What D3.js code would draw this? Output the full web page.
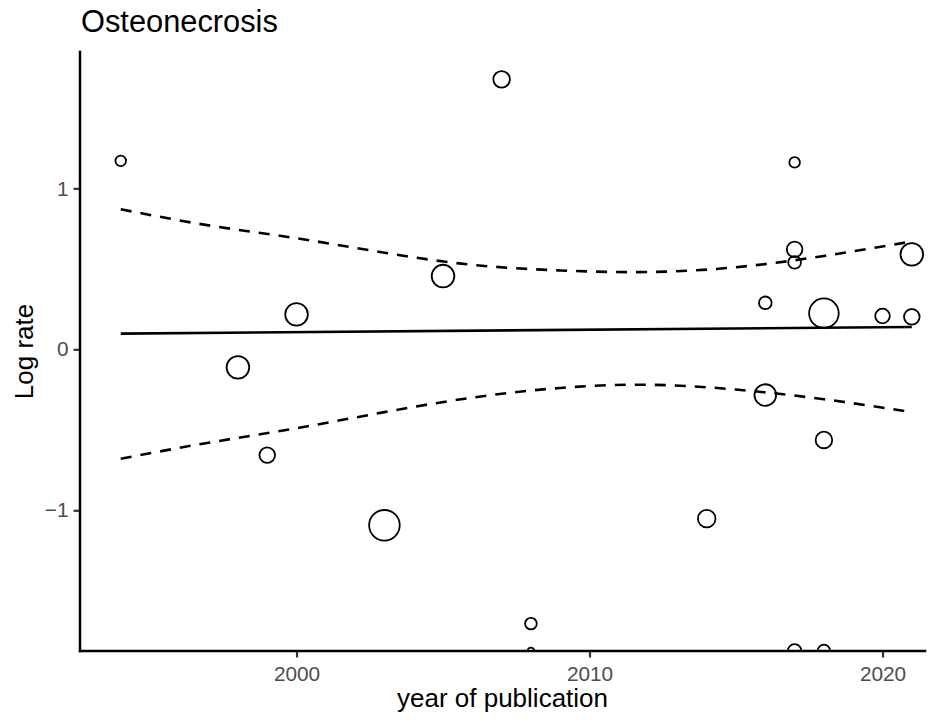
<!DOCTYPE html>
<html><head><meta charset="utf-8">
<script src="https://cdn.jsdelivr.net/npm/d3@7"></script>
<style>body{margin:0;background:#fff}svg{display:block}</style>
</head><body>
<svg id="chart" width="943" height="722"></svg>
<script>
// ---- data ----
const title = "Osteonecrosis";
const xLabel = "year of publication";
const yLabel = "Log rate";
const years = [1994,1998,1999,2000,2003,2005,2007,2008,2008,2014,2016,2016,2017,2017,2017,2017,2018,2018,2018,2020,2021,2021];
const logRate = [1.171,-0.112,-0.657,0.217,-1.093,0.455,1.677,-1.704,-Infinity,-1.052,0.289,-0.284,1.161,0.621,0.540,-Infinity,0.224,-0.563,-Infinity,0.207,0.202,0.590];
const weights = [28,128,61,128,234,128,69,34,12,77,40,117,28,61,40,46,219,69,40,53,61,128];
const fitYears = [1994,2021];
const fitValues = [0.0975,0.139];
const ciYears = [1994,1997,2000,2003,2006,2009,2012,2015,2018,2021];
const ciUpper = [0.87,0.77,0.69,0.60,0.525,0.49,0.48,0.51,0.58,0.67];
const ciLower = [-0.68,-0.58,-0.49,-0.39,-0.30,-0.24,-0.22,-0.25,-0.31,-0.39];
const xTicks = [2000,2010,2020];
const yTicks = [-1,0,1];

(function(){
// ---- layout ----
const svg = d3.select("#chart");
const pL = 80, pR = 925, pT = 52, pB = 651;
const x = d3.scaleLinear().domain([1992.61, 2021.45]).range([pL, pR]);
const y = d3.scaleLinear().domain([-1.874, 1.847]).range([pB, pT]);
const r = d3.scaleSqrt().domain([0, 234]).range([0, 15.3]);
const font = "'Liberation Sans', Arial, Helvetica, sans-serif";

svg.append("defs").append("clipPath").attr("id","panel")
  .append("rect").attr("x",pL).attr("y",pT).attr("width",pR-pL).attr("height",pB-pT);

const g = svg.append("g").attr("clip-path","url(#panel)");

// points
const pts = years.map((yr,i)=>({yr, v:logRate[i], w:weights[i]}));
g.selectAll("circle").data(pts).join("circle")
  .attr("cx", d=>x(d.yr))
  .attr("cy", d=> isFinite(d.v) ? y(d.v) : (d.v<0 ? y(y.domain()[0]) : y(y.domain()[1])))
  .attr("r", d=>r(d.w))
  .attr("fill","none").attr("stroke","#000").attr("stroke-width",1.8);

// regression line
const line = d3.line().x(d=>x(d[0])).y(d=>y(d[1]));
g.append("path").datum(fitYears.map((yr,i)=>[yr,fitValues[i]]))
  .attr("d", line).attr("fill","none").attr("stroke","#000").attr("stroke-width",2.6);

// CI lines
const cline = d3.line().x(d=>x(d[0])).y(d=>y(d[1])).curve(d3.curveNatural);
[ciUpper, ciLower].forEach(arr=>{
  g.append("path").datum(ciYears.map((yr,i)=>[yr,arr[i]]))
    .attr("d", cline).attr("fill","none").attr("stroke","#000")
    .attr("stroke-width",2.6).attr("stroke-dasharray","11,9");
});

// axes
const xAxis = svg.append("g").attr("transform",`translate(0,${pB})`)
  .call(d3.axisBottom(x).tickValues(xTicks).tickFormat(d3.format("d")).tickSize(6.5).tickPadding(9));
const yAxis = svg.append("g").attr("transform",`translate(${pL},0)`)
  .call(d3.axisLeft(y).tickValues(yTicks).tickFormat(d3.format("d")).tickSize(6.5).tickPadding(5));
[xAxis,yAxis].forEach(a=>{
  a.select(".domain").remove();
  a.selectAll(".tick line").attr("stroke","#333").attr("stroke-width",2.2);
  a.selectAll(".tick text").attr("fill","#4d4d4d").style("font-family",font).style("font-size","20.8px");
});
// axis lines
svg.append("line").attr("x1",pL).attr("x2",pR).attr("y1",pB).attr("y2",pB)
  .attr("stroke","#000").attr("stroke-width",2.5).attr("stroke-linecap","square");
svg.append("line").attr("x1",pL).attr("x2",pL).attr("y1",pT).attr("y2",pB)
  .attr("stroke","#000").attr("stroke-width",2.5).attr("stroke-linecap","square");

// titles
svg.append("text").attr("x",81).attr("y",32).text(title)
  .style("font-family",font).style("font-size","30.8px").attr("fill","#000");
svg.append("text").attr("x",(pL+pR)/2).attr("y",707).attr("text-anchor","middle").text(xLabel)
  .style("font-family",font).style("font-size","26px").attr("fill","#000");
svg.append("text").attr("transform",`translate(33,${(pT+pB)/2}) rotate(-90)`)
  .attr("text-anchor","middle").text(yLabel)
  .style("font-family",font).style("font-size","26px").attr("fill","#000");
})();
</script>
</body></html>
